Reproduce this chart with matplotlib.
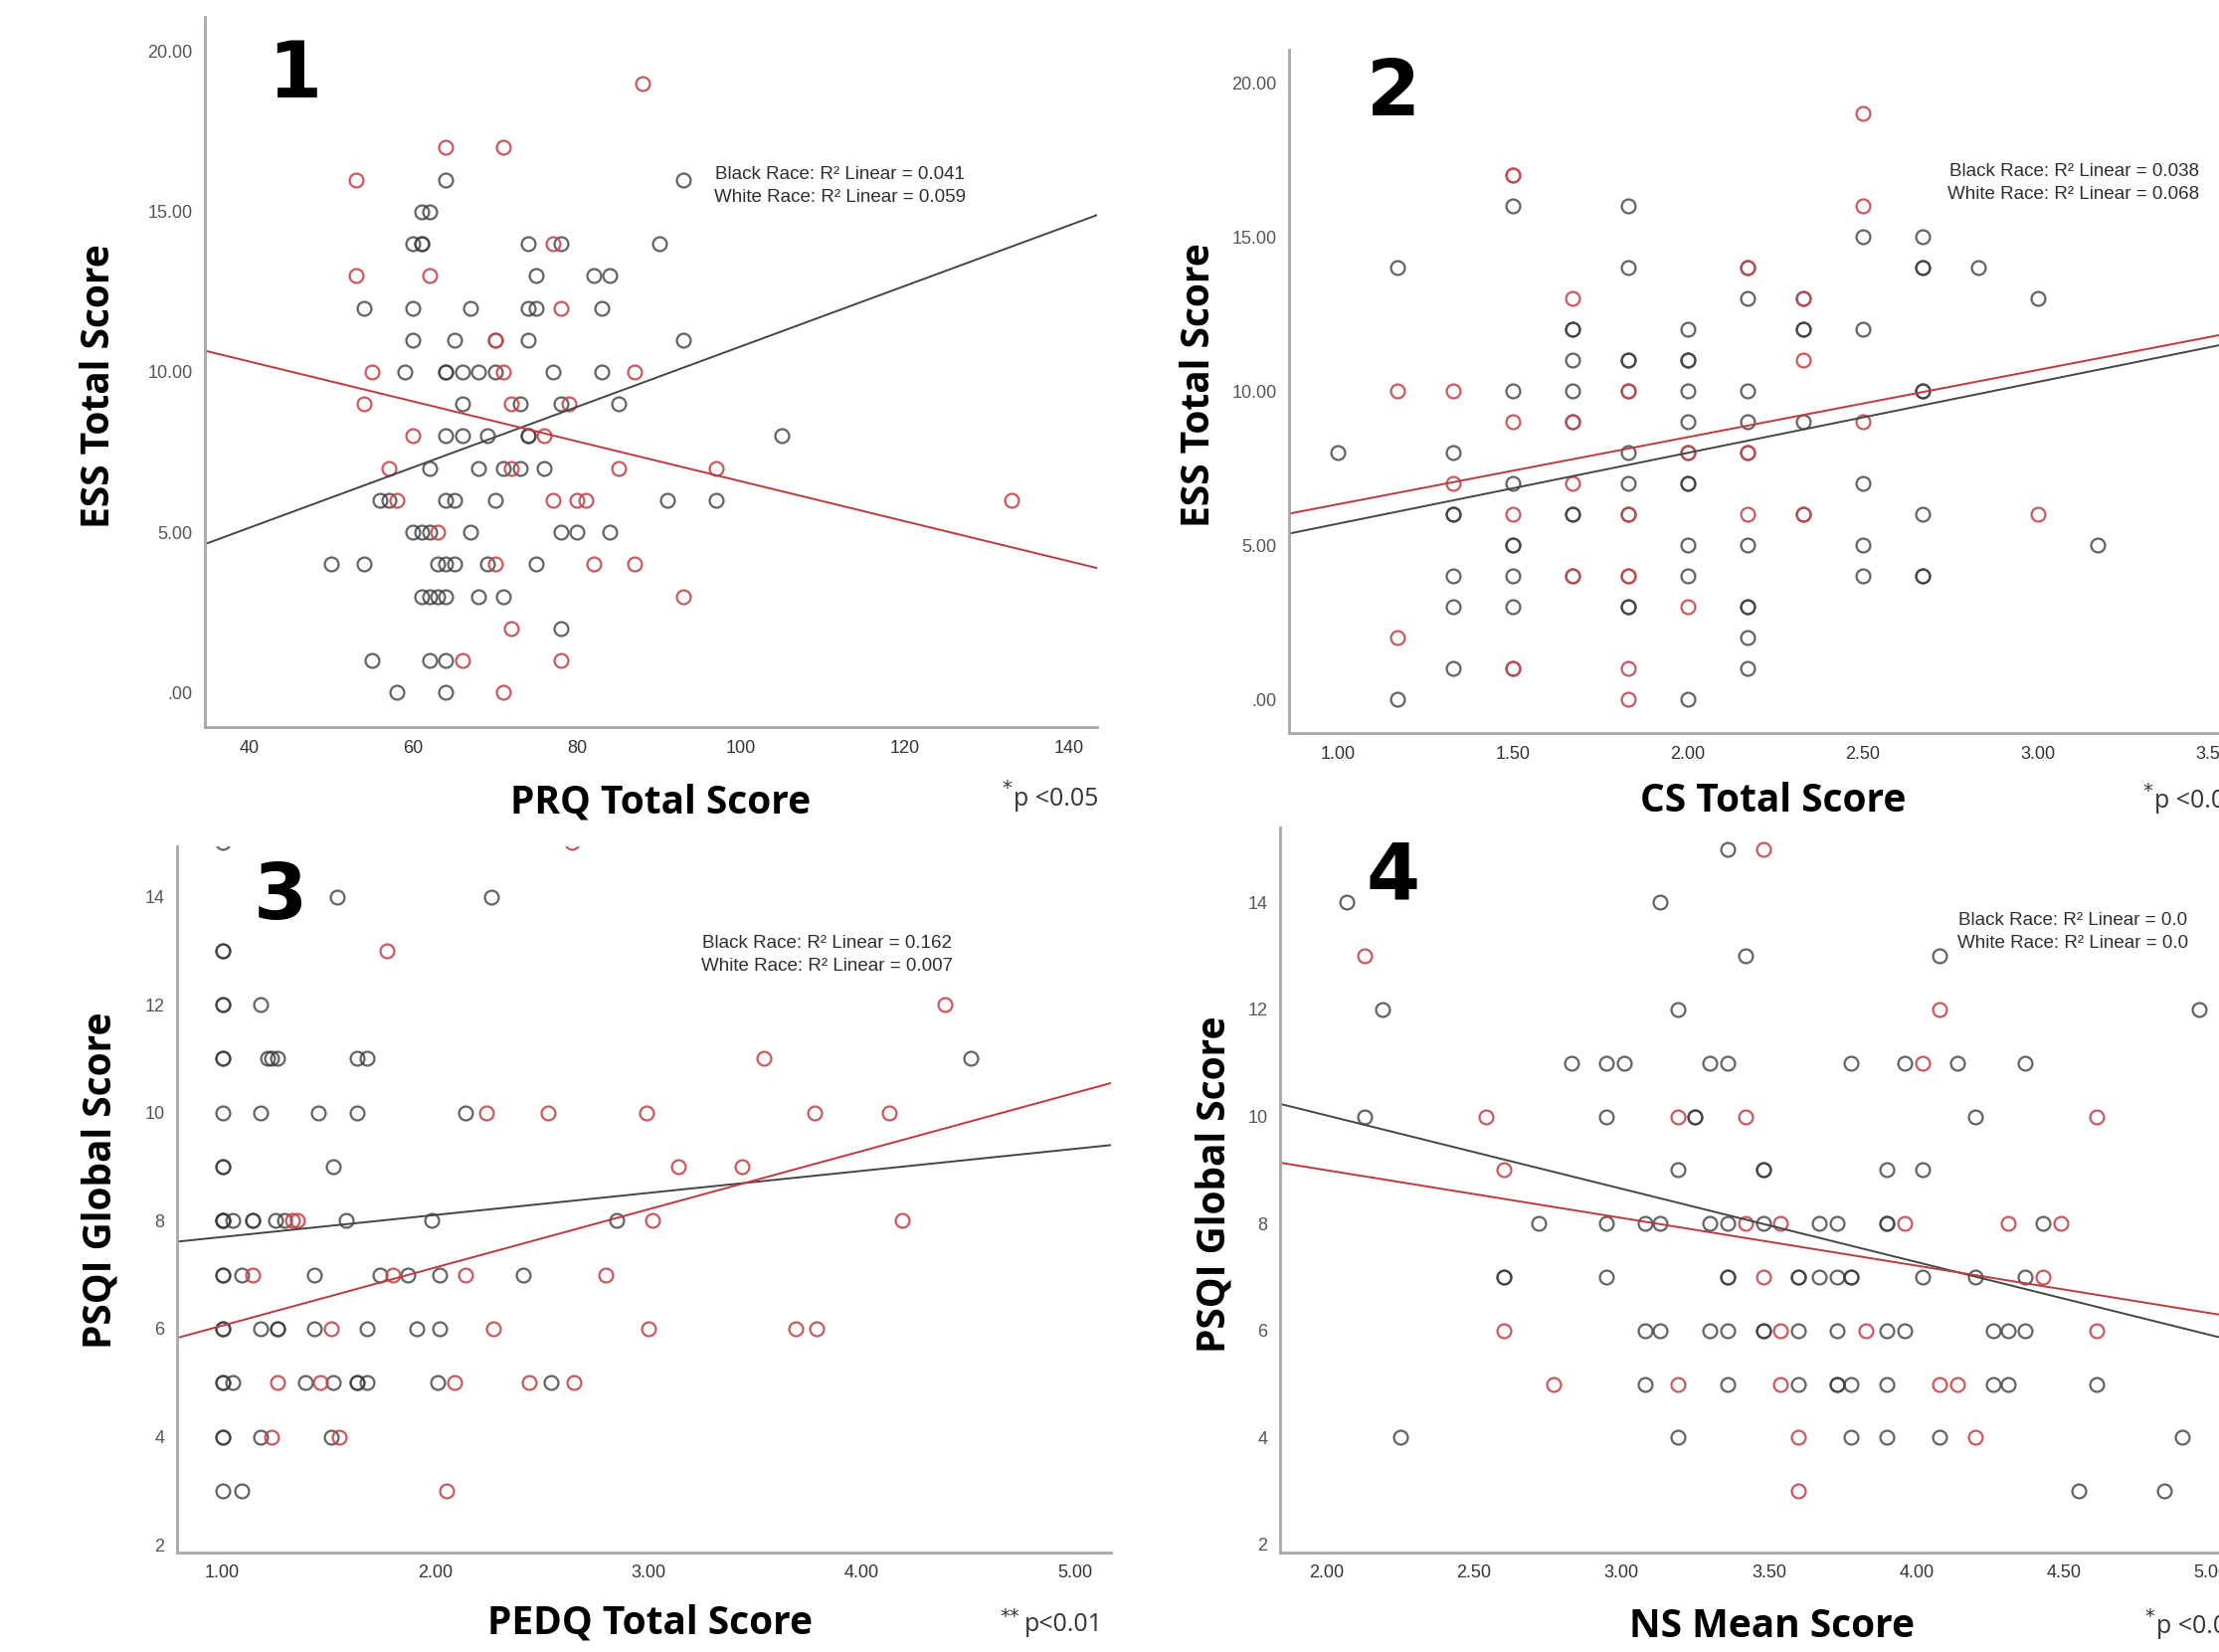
import matplotlib
matplotlib.use("Agg")
import matplotlib.pyplot as plt

# ---------------- data ----------------
# panel 1: PRQ total score vs ESS total score
p1_black_x = [64, 93, 61, 62, 60, 61, 61, 74, 78, 90, 75, 82, 84, 54, 60, 67, 74, 75, 83,
              60, 65, 70, 74, 93, 59, 64, 64, 66, 68, 70, 77, 83, 66, 73, 78, 85,
              64, 66, 69, 74, 74, 105, 62, 68, 71, 73, 76, 56, 57, 64, 65, 70, 91, 97,
              60, 61, 62, 67, 78, 80, 84, 50, 54, 63, 64, 65, 69, 75, 61, 62, 63, 64, 68, 71,
              78, 55, 62, 64, 58, 64]
p1_black_y = [16, 16, 15, 15, 14, 14, 14, 14, 14, 14, 13, 13, 13, 12, 12, 12, 12, 12, 12,
              11, 11, 11, 11, 11, 10, 10, 10, 10, 10, 10, 10, 10, 9, 9, 9, 9,
              8, 8, 8, 8, 8, 8, 7, 7, 7, 7, 7, 6, 6, 6, 6, 6, 6, 6,
              5, 5, 5, 5, 5, 5, 5, 4, 4, 4, 4, 4, 4, 4, 3, 3, 3, 3, 3, 3,
              2, 1, 1, 1, 0, 0]
p1_white_x = [88, 64, 71, 53, 77, 53, 62, 78, 70, 55, 71, 87, 54, 72, 79, 60, 76,
              57, 72, 85, 97, 58, 77, 80, 81, 133, 63, 70, 82, 87, 93, 72, 66, 78, 71]
p1_white_y = [19, 17, 17, 16, 14, 13, 13, 12, 11, 10, 10, 10, 9, 9, 9, 8, 8,
              7, 7, 7, 7, 6, 6, 6, 6, 6, 5, 4, 4, 4, 3, 2, 1, 1, 0]
p1_fit_black = (1.37, 0.0943)   # intercept, slope
p1_fit_white = (12.82, -0.0623)

# panel 2: CS total score vs ESS total score
p2_black_x = [1.00, 1.17, 1.17,
              1.33, 1.33, 1.33, 1.33, 1.33, 1.33,
              1.50, 1.50, 1.50, 1.50, 1.50, 1.50, 1.50, 1.50,
              1.67, 1.67, 1.67, 1.67, 1.67, 1.67, 1.67, 1.67,
              1.83, 1.83, 1.83, 1.83, 1.83, 1.83, 1.83, 1.83, 1.83, 1.83,
              2.00, 2.00, 2.00, 2.00, 2.00, 2.00, 2.00, 2.00, 2.00, 2.00, 2.00,
              2.17, 2.17, 2.17, 2.17, 2.17, 2.17, 2.17, 2.17, 2.17, 2.17,
              2.33, 2.33, 2.33, 2.33, 2.33,
              2.50, 2.50, 2.50, 2.50, 2.50,
              2.67, 2.67, 2.67, 2.67, 2.67, 2.67, 2.67, 2.67,
              2.83, 3.00, 3.17]
p2_black_y = [8, 14, 0,
              8, 6, 6, 4, 3, 1,
              16, 10, 7, 5, 5, 4, 3, 1,
              12, 12, 11, 10, 9, 6, 6, 4,
              16, 14, 11, 11, 10, 8, 7, 6, 3, 3,
              12, 11, 11, 10, 9, 8, 7, 7, 5, 4, 0,
              14, 13, 10, 9, 8, 5, 3, 3, 2, 1,
              13, 12, 12, 9, 6,
              15, 12, 7, 5, 4,
              15, 14, 14, 10, 10, 6, 4, 4,
              14, 13, 5]
p2_white_x = [1.17, 1.17, 1.33, 1.33, 1.50, 1.50, 1.50, 1.50, 1.50,
              1.67, 1.67, 1.67, 1.67, 1.83, 1.83, 1.83, 1.83, 1.83, 1.83,
              2.00, 2.00, 2.17, 2.17, 2.17, 2.33, 2.33, 2.33, 2.50, 2.50, 2.50, 3.00]
p2_white_y = [10, 2, 10, 7, 17, 17, 9, 6, 1,
              13, 9, 7, 4, 10, 6, 4, 4, 1, 0,
              8, 3, 14, 8, 6, 13, 11, 6, 19, 16, 9, 6]
p2_fit_black = (3.40, 2.30)
p2_fit_white = (4.15, 2.18)

# panel 3: PEDQ total score vs PSQI global score
p3_black_x = [1.00, 1.54, 2.26, 1.00, 1.00, 1.00, 1.00, 1.18,
              1.00, 1.00, 1.21, 1.23, 1.26, 1.63, 1.68, 4.51,
              1.00, 1.18, 1.45, 1.63, 2.14, 1.00, 1.00, 1.52,
              1.00, 1.00, 1.00, 1.05, 1.14, 1.14, 1.25, 1.29, 1.58, 1.98, 2.85,
              1.00, 1.00, 1.09, 1.43, 1.74, 1.87, 2.02, 2.41,
              1.00, 1.00, 1.18, 1.26, 1.26, 1.43, 1.68, 1.91, 2.02,
              1.00, 1.00, 1.05, 1.39, 1.52, 1.63, 1.63, 1.68, 2.01, 2.54,
              1.00, 1.00, 1.18, 1.51, 1.00, 1.09]
p3_black_y = [15, 14, 14, 13, 13, 12, 12, 12,
              11, 11, 11, 11, 11, 11, 11, 11,
              10, 10, 10, 10, 10, 9, 9, 9,
              8, 8, 8, 8, 8, 8, 8, 8, 8, 8, 8,
              7, 7, 7, 7, 7, 7, 7, 7,
              6, 6, 6, 6, 6, 6, 6, 6, 6,
              5, 5, 5, 5, 5, 5, 5, 5, 5, 5,
              4, 4, 4, 4, 3, 3]
p3_white_x = [2.64, 1.77, 4.39, 3.54, 2.24, 2.53, 2.99, 3.78, 4.13, 3.14, 3.44,
              1.33, 1.35, 3.02, 4.19, 1.14, 1.80, 2.14, 2.80,
              1.51, 2.27, 3.00, 3.69, 3.79, 1.26, 1.46, 2.09, 2.44, 2.65,
              1.23, 1.55, 2.05]
p3_white_y = [15, 13, 12, 11, 10, 10, 10, 10, 10, 9, 9,
              8, 8, 8, 8, 7, 7, 7, 7,
              6, 6, 6, 6, 6, 5, 5, 5, 5, 5,
              4, 4, 3]
p3_fit_black = (7.29, 0.408)
p3_fit_white = (4.98, 1.077)

# panel 4: NS mean score vs PSQI global score
p4_black_x = [3.36, 2.07, 3.13, 3.42, 4.08, 2.19, 3.19, 4.96,
              2.83, 2.95, 3.01, 3.30, 3.36, 3.78, 3.96, 4.14, 4.37,
              2.13, 2.95, 3.25, 3.25, 4.20,
              3.19, 3.48, 3.48, 3.90, 4.02,
              2.72, 2.95, 3.08, 3.13, 3.30, 3.36, 3.48, 3.67, 3.73, 3.90, 3.90, 4.43,
              2.60, 2.60, 2.95, 3.36, 3.36, 3.60, 3.60, 3.67, 3.73, 3.78, 3.78, 4.02, 4.20, 4.37,
              3.08, 3.13, 3.30, 3.36, 3.48, 3.48, 3.60, 3.73, 3.90, 3.96, 4.26, 4.31, 4.37,
              3.08, 3.36, 3.60, 3.73, 3.73, 3.78, 3.90, 4.26, 4.31, 4.61,
              2.25, 3.19, 3.78, 3.90, 4.08, 4.90, 4.55, 4.84]
p4_black_y = [15, 14, 14, 13, 13, 12, 12, 12,
              11, 11, 11, 11, 11, 11, 11, 11, 11,
              10, 10, 10, 10, 10,
              9, 9, 9, 9, 9,
              8, 8, 8, 8, 8, 8, 8, 8, 8, 8, 8, 8,
              7, 7, 7, 7, 7, 7, 7, 7, 7, 7, 7, 7, 7, 7,
              6, 6, 6, 6, 6, 6, 6, 6, 6, 6, 6, 6, 6,
              5, 5, 5, 5, 5, 5, 5, 5, 5, 5,
              4, 4, 4, 4, 4, 4, 3, 3]
p4_white_x = [3.48, 2.13, 4.08, 4.02, 2.54, 3.19, 3.42, 4.61, 2.60,
              3.42, 3.54, 3.96, 4.31, 4.49, 3.48, 4.43,
              2.60, 3.54, 3.83, 4.61, 2.77, 3.19, 3.54, 4.08, 4.14,
              3.60, 4.20, 3.60]
p4_white_y = [15, 13, 12, 11, 10, 10, 10, 10, 9,
              8, 8, 8, 8, 8, 7, 7,
              6, 6, 6, 6, 5, 5, 5, 5, 5,
              4, 4, 3]
p4_fit_black = (12.76, -1.370)
p4_fit_white = (10.78, -0.892)

ess_ticks = [0, 5, 10, 15, 20]
ess_labels = ['.00', '5.00', '10.00', '15.00', '20.00']
psqi_ticks = [2, 4, 6, 8, 10, 12, 14]
psqi_labels = ['2', '4', '6', '8', '10', '12', '14']
prq_ticks = [40, 60, 80, 100, 120, 140]
prq_labels = ['40', '60', '80', '100', '120', '140']
cs_ticks = [1.0, 1.5, 2.0, 2.5, 3.0, 3.5]
cs_labels = ['1.00', '1.50', '2.00', '2.50', '3.00', '3.50']
pedq_ticks = [1, 2, 3, 4, 5]
pedq_labels = ['1.00', '2.00', '3.00', '4.00', '5.00']
ns_ticks = [2.0, 2.5, 3.0, 3.5, 4.0, 4.5, 5.0]
ns_labels = ['2.00', '2.50', '3.00', '3.50', '4.00', '4.50', '5.00']

# ---------------- drawing ----------------
W, H = 2231, 1661
fig = plt.figure(figsize=(W / 100, H / 100), dpi=100)

BLACK = '#3c3c3c'
RED = '#c4474a'


def px_axes(left, right, top, bottom):
    return fig.add_axes([left / W, 1 - bottom / H, (right - left) / W, (bottom - top) / H])


def fx(x):
    return x / W


def fy(y):
    return 1 - y / H


def panel(ax, bx, by, wx, wy, fit_b, fit_w, xlim, ylim, xt, xl, yt, yl):
    ax.plot(bx, by, ls='none', marker='o', ms=10, mfc='none', mec=BLACK,
            mew=1.6, alpha=0.8)
    ax.plot(wx, wy, ls='none', marker='o', ms=10, mfc='none', mec=RED,
            mew=1.6, alpha=0.9)
    ax.axline((0, fit_b[0]), slope=fit_b[1], color='#454545', lw=1.4)
    ax.axline((0, fit_w[0]), slope=fit_w[1], color='#c0393b', lw=1.4)
    ax.set_xlim(*xlim)
    ax.set_ylim(*ylim)
    ax.set_xticks(xt)
    ax.set_xticklabels(xl)
    ax.set_yticks(yt)
    ax.set_yticklabels(yl)
    for s in ['top', 'right']:
        ax.spines[s].set_visible(False)
    for s in ['left', 'bottom']:
        ax.spines[s].set_color('#a8a8a8')
        ax.spines[s].set_linewidth(2)
    ax.tick_params(length=0, pad=9, labelsize=13)
    for t in ax.get_xticklabels():
        t.set_family('Liberation Sans')
        t.set_color('#333333')
    for t in ax.get_yticklabels():
        t.set_family('Liberation Sans')
        t.set_color('#555555')
    ax.patch.set_alpha(0)


ax1 = px_axes(206, 1103, 17, 731)
panel(ax1, p1_black_x, p1_black_y, p1_white_x, p1_white_y, p1_fit_black, p1_fit_white,
      (34.6, 143.4), (-1.07, 21.07), prq_ticks, prq_labels, ess_ticks, ess_labels)

ax2 = px_axes(1296, 2260, 50, 737)
panel(ax2, p2_black_x, p2_black_y, p2_white_x, p2_white_y, p2_fit_black, p2_fit_white,
      (0.861, 3.6), (-1.09, 21.08), cs_ticks, cs_labels, ess_ticks, ess_labels)

ax3 = px_axes(178, 1117, 851, 1561)
panel(ax3, p3_black_x, p3_black_y, p3_white_x, p3_white_y, p3_fit_black, p3_fit_white,
      (0.787, 5.17), (1.855, 14.93), pedq_ticks, pedq_labels, psqi_ticks, psqi_labels)

ax4 = px_axes(1287, 2253, 832, 1561)
panel(ax4, p4_black_x, p4_black_y, p4_white_x, p4_white_y, p4_fit_black, p4_fit_white,
      (1.843, 5.1), (1.85, 15.4), ns_ticks, ns_labels, psqi_ticks, psqi_labels)

# panel numbers
for num, (x, y) in zip(['1', '2', '3', '4'], [(296, 76), (1401, 94), (282, 902), (1401, 881)]):
    fig.text(fx(x), fy(y), num, fontsize=56, fontweight='bold', family='DejaVu Sans',
             ha='center', va='center', color='black')

# axis titles
lab = dict(fontsize=28, fontweight='bold', family='Open Sans', color='black',
           ha='center', va='center')
fig.text(fx(100), fy(388), 'ESS Total Score', rotation=90, **lab)
fig.text(fx(1206), fy(387), 'ESS Total Score', rotation=90, **lab)
fig.text(fx(101), fy(1187), 'PSQI Global Score', rotation=90, **lab)
fig.text(fx(1221), fy(1191), 'PSQI Global Score', rotation=90, **lab)
fig.text(fx(664), fy(807), 'PRQ Total Score', **lab)
fig.text(fx(1783), fy(806), 'CS Total Score', **lab)
fig.text(fx(653), fy(1632), 'PEDQ Total Score', **lab)
fig.text(fx(1781), fy(1635), 'NS Mean Score', **lab)

# significance notes
note = dict(fontsize=18, family='Open Sans', color='#333333', va='center', ha='left')
star = dict(fontsize=14, family='DejaVu Sans', color='#333333', va='center', ha='left')
fig.text(fx(1019), fy(804), 'p <0.05', **note)
fig.text(fx(1007), fy(793), '*', **star)
fig.text(fx(2166), fy(806), 'p <0.05', **note)
fig.text(fx(2154), fy(795), '*', **star)
fig.text(fx(1030), fy(1634), 'p<0.01', **note)
fig.text(fx(1005), fy(1625), '**', **star)
fig.text(fx(2168), fy(1636), 'p <0.05', **note)
fig.text(fx(2156), fy(1625), '*', **star)

# R squared notes
r2 = dict(fontsize=13.5, family='Liberation Sans', color='#2e2e2e', va='center',
          linespacing=1.45, multialignment='center')
fig.text(fx(844), fy(187), 'Black Race: R\u00b2 Linear = 0.041\nWhite Race: R\u00b2 Linear = 0.059',
         ha='center', **r2)
fig.text(fx(2085), fy(184), 'Black Race: R\u00b2 Linear = 0.038\nWhite Race: R\u00b2 Linear = 0.068',
         ha='center', **r2)
fig.text(fx(832), fy(960), 'Black Race: R\u00b2 Linear = 0.162\nWhite Race: R\u00b2 Linear = 0.007',
         ha='center', **r2)
fig.text(fx(1968), fy(937), 'Black Race: R\u00b2 Linear = 0.0\nWhite Race: R\u00b2 Linear = 0.0',
         ha='left', **r2)

fig.savefig('out.png', dpi=100)
